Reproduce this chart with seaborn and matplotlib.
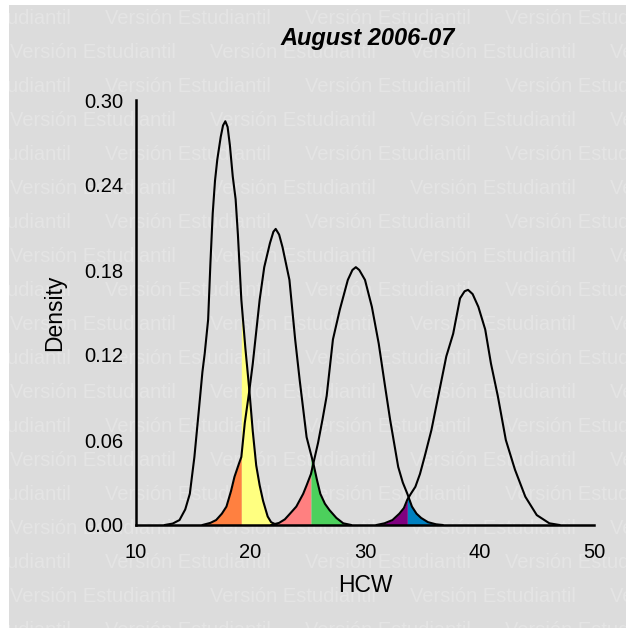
import numpy as np
import pandas as pd
import matplotlib
matplotlib.use('Agg')
import matplotlib.pyplot as plt
import seaborn as sns

# Density curves (HCW, density)
hcw_1 = [12.5, 13.2, 13.8, 14.3, 14.7, 15.1, 15.5, 15.8, 16.0, 16.3, 16.5, 16.7, 16.9, 17.1, 17.4,
         17.6, 17.8, 18.0, 18.2, 18.45, 18.7, 18.9, 19.2, 19.55, 19.9, 20.2, 20.5, 20.8, 21.1, 21.5,
         21.8, 22.3]
dens_1 = [0.0, 0.001, 0.0035, 0.011, 0.022, 0.048, 0.082, 0.108, 0.121, 0.145, 0.185, 0.220, 0.243,
          0.258, 0.274, 0.282, 0.285, 0.281, 0.268, 0.246, 0.230, 0.205, 0.159, 0.125, 0.095, 0.066,
          0.042, 0.028, 0.017, 0.006, 0.002, 0.0]

hcw_2 = [15.8, 16.5, 17.0, 17.5, 17.9, 18.3, 18.6, 19.0, 19.2, 19.5, 19.9, 20.2, 20.8, 21.2, 21.7,
         22.0, 22.2, 22.5, 22.8, 23.4, 23.9, 24.3, 24.9, 25.28, 25.49, 25.8, 26.1, 26.5, 26.9, 27.5,
         28.1, 28.8]
dens_2 = [0.0, 0.0015, 0.0035, 0.008, 0.013, 0.024, 0.034, 0.0435, 0.048, 0.072, 0.095, 0.114, 0.159,
          0.182, 0.199, 0.207, 0.209, 0.205, 0.196, 0.173, 0.131, 0.102, 0.062, 0.050, 0.0435, 0.032,
          0.022, 0.015, 0.0105, 0.005, 0.0012, 0.0]

hcw_3 = [21.8, 22.5, 23.0, 23.45, 24.0, 24.6, 24.9, 25.28, 25.49, 25.9, 26.3, 26.65, 27.2, 27.8, 28.5,
         28.9, 29.2, 29.5, 30.0, 30.6, 31.2, 31.75, 32.2, 32.9, 33.3, 33.7, 34.1, 34.5, 34.9, 35.5,
         36.2, 36.8]
dens_3 = [0.0, 0.0015, 0.004, 0.008, 0.013, 0.022, 0.028, 0.036, 0.0435, 0.058, 0.075, 0.091, 0.131,
          0.152, 0.173, 0.180, 0.182, 0.180, 0.173, 0.154, 0.128, 0.098, 0.074, 0.041, 0.030, 0.022,
          0.013, 0.008, 0.005, 0.002, 0.0005, 0.0]

hcw_4 = [31.0, 31.7, 32.4, 33.0, 33.4, 33.7, 34.0, 34.4, 34.8, 35.2, 35.8, 36.5, 37.1, 37.7, 38.3,
         38.7, 39.0, 39.4, 39.9, 40.5, 41.0, 41.6, 42.3, 43.1, 44.0, 45.0, 46.1, 47.0]
dens_4 = [0.0, 0.0012, 0.0035, 0.008, 0.012, 0.018, 0.022, 0.027, 0.036, 0.048, 0.067, 0.095, 0.119,
          0.135, 0.160, 0.165, 0.166, 0.163, 0.154, 0.138, 0.114, 0.091, 0.060, 0.039, 0.020, 0.007,
          0.0012, 0.0]

# cut points between neighbouring curves
cuts = [19.2, 25.28, 33.7]
left_colors = ['#FF8040', '#FF8080', '#800080']    # tail of the right curve, left of the cut
right_colors = ['#FFFF80', '#4CD05C', '#0080C0']   # tail of the left curve, right of the cut

x_ticks = [10, 20, 30, 40, 50]
y_ticks = [0.00, 0.06, 0.12, 0.18, 0.24, 0.30]
title = 'August 2006-07'
watermark = 'Versión Estudiantil'

curves = [pd.DataFrame({'HCW': h, 'Density': d}) for h, d in
          [(hcw_1, dens_1), (hcw_2, dens_2), (hcw_3, dens_3), (hcw_4, dens_4)]]

sns.set_theme(style='white')
plt.rcParams['font.family'] = ['Liberation Sans', 'DejaVu Sans']
plt.rcParams['text.color'] = 'black'

W, H = 626, 628
fig = plt.figure(figsize=(W / 100, H / 100), dpi=100, facecolor='white')

def fx(px):
    return px / W

def fy(py):
    return 1 - py / H

# grey panel with the student watermark
bg = fig.add_axes([fx(9), 0, 1 - fx(9), 1 - 5 / H])
bg.set_facecolor('#DCDCDC')
bg.set_xlim(9, W)
bg.set_ylim(H, 5)
bg.set_xticks([])
bg.set_yticks([])
for s in bg.spines.values():
    s.set_visible(False)
for k in range(19):
    y = 19 + 34 * k
    x0 = 10 if k % 2 == 1 else -95
    for j in range(5):
        bg.text(x0 + 200 * j, y, watermark, fontsize=14.5, color='#E4E4E4',
                ha='left', va='center', clip_on=True)

ax = fig.add_axes([fx(136), fy(525), 458 / W, 425 / H])
ax.patch.set_alpha(0)

# coloured tails
for i, cut in enumerate(cuts):
    right_curve = curves[i + 1]
    left_curve = curves[i]
    part = right_curve[right_curve['HCW'] <= cut]
    ax.fill_between(part['HCW'], 0, part['Density'], color=left_colors[i], lw=0, zorder=1)
    part = left_curve[left_curve['HCW'] >= cut]
    ax.fill_between(part['HCW'], 0, part['Density'], color=right_colors[i], lw=0, zorder=1)

for c in curves:
    sns.lineplot(data=c, x='HCW', y='Density', color='black', lw=1.5, ax=ax,
                 estimator=None, sort=False, zorder=3)

ax.set_xlim(10, 50)
ax.set_ylim(0, 0.30)
ax.set_xticks(x_ticks)
ax.set_yticks(y_ticks)
ax.set_yticklabels([f'{v:.2f}' for v in y_ticks])
ax.set_xlabel('')
ax.set_ylabel('')
sns.despine(ax=ax)
for side in ['left', 'bottom']:
    ax.spines[side].set_linewidth(1.8)
    ax.spines[side].set_color('black')
    ax.spines[side].set_zorder(4)
ax.tick_params(axis='both', direction='out', length=6, width=1.5, color='black',
               labelsize=14.5, labelcolor='black')
ax.tick_params(axis='x', pad=7)
ax.tick_params(axis='y', pad=3)

fig.text(fx(368), fy(39), title, fontsize=17, fontweight='bold', fontstyle='italic',
         color='black', ha='center', va='center')
fig.text(fx(365), fy(586), 'HCW', fontsize=16.5, color='black', ha='center', va='center')
fig.text(fx(55), fy(313), 'Density', fontsize=16.5, color='black', rotation=90,
         ha='center', va='center')

fig.savefig('out.png', dpi=100, facecolor='white')
